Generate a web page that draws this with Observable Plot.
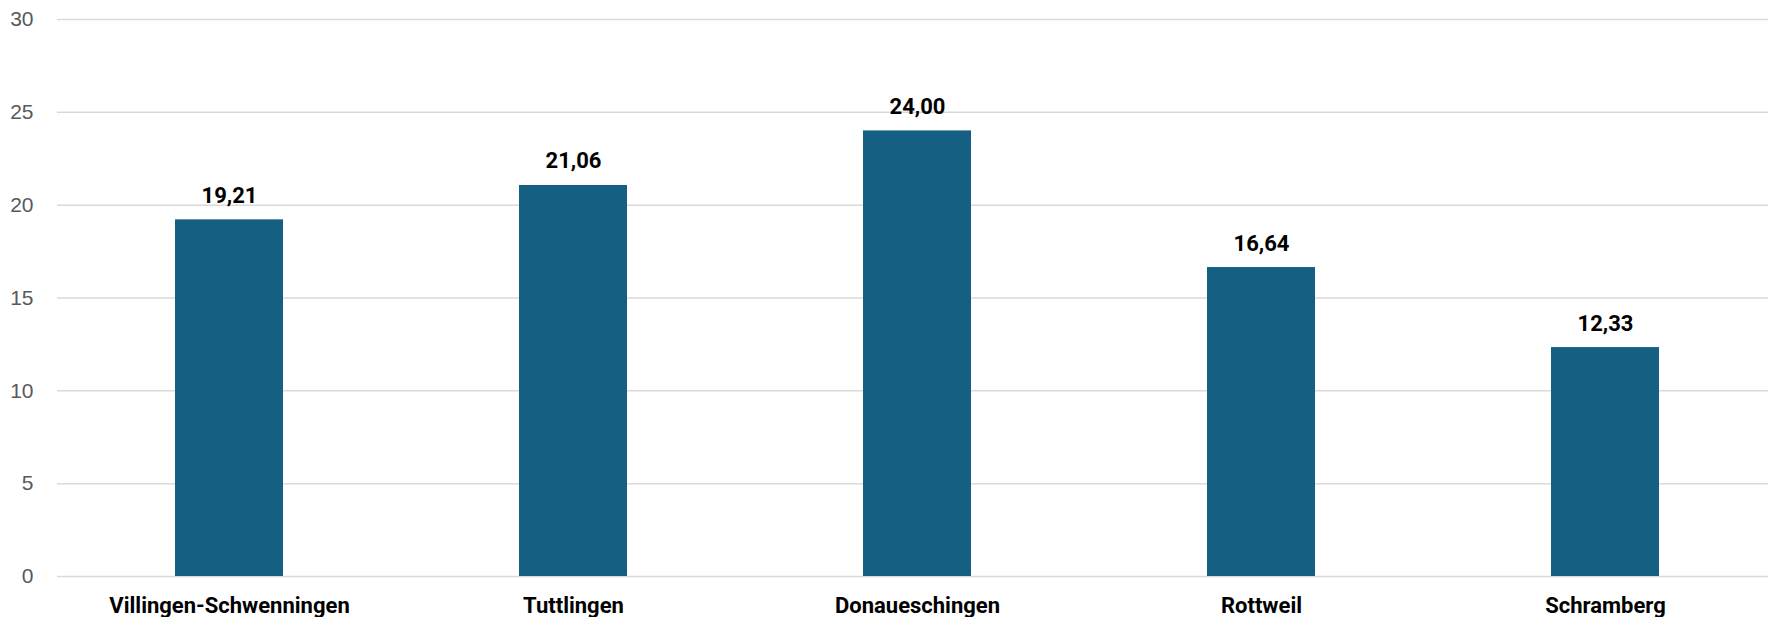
<!DOCTYPE html>
<html>
<head>
<meta charset="utf-8">
<script src="https://cdn.jsdelivr.net/npm/d3@7"></script>
<script src="https://cdn.jsdelivr.net/npm/@observablehq/plot@0.6"></script>
<style>
  html, body { margin: 0; padding: 0; background: #fff; }
  #chart svg { display: block; }
</style>
</head>
<body>
<div id="chart"></div>
<script>
const cities = ["Villingen-Schwenningen", "Tuttlingen", "Donaueschingen", "Rottweil", "Schramberg"];
const values = [19.21, 21.06, 24.00, 16.64, 12.33];
const yTicks = [0, 5, 10, 15, 20, 25, 30];

const data = cities.map((c, i) => ({city: c, value: values[i]}));
const fmt = v => v.toFixed(2).replace(".", ",");

const chart = Plot.plot({
  width: 1768,
  height: 617,
  marginTop: 19,
  marginBottom: 41,
  marginLeft: 57,
  marginRight: 0,
  style: {fontFamily: "Roboto, sans-serif", background: "#fff"},
  x: {domain: cities, range: [57, 1777], paddingInner: 0.686, paddingOuter: 0.343, label: null},
  y: {domain: [0, 30], label: null},
  marks: [
    Plot.ruleY(yTicks, {stroke: "#d9d9d9", strokeWidth: 1.5}),
    Plot.axisY({ticks: yTicks, tickSize: 0, tickPadding: 24, fontSize: 21, fill: "#595959", fontFamily: "Liberation Sans, Arial, sans-serif", label: null}),
    Plot.axisX({tickSize: 0, tickPadding: 21, fontSize: 22, fontWeight: "bold", fill: "#000", label: null}),
    Plot.barY(data, {x: "city", y: "value", fill: "#156082"}),
    Plot.text(data, {x: "city", y: "value", text: d => fmt(d.value), dy: -17, lineAnchor: "bottom", fontSize: 22, fontWeight: "bold", fill: "#000"})
  ]
});
document.getElementById("chart").appendChild(chart);
</script>
</body>
</html>
